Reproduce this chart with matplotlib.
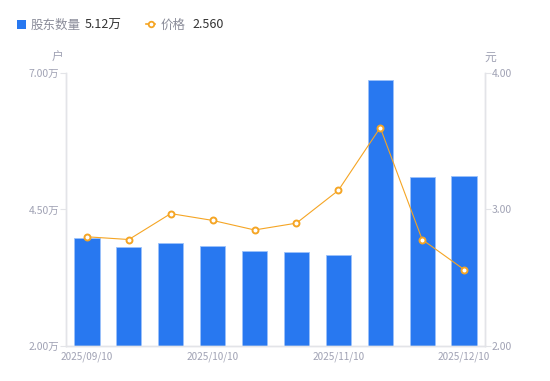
import matplotlib
matplotlib.use("Agg")
import matplotlib.pyplot as plt
from matplotlib.patches import Rectangle
from matplotlib.lines import Line2D

plt.rcParams["font.family"] = ["Noto Sans CJK SC", "DejaVu Sans"]

dates = ["2025/09/10", "2025/09/20", "2025/09/30", "2025/10/10", "2025/10/20",
         "2025/10/31", "2025/11/10", "2025/11/20", "2025/11/28", "2025/12/10"]
holders = [3.98, 3.81, 3.88, 3.83, 3.74, 3.72, 3.67, 6.87, 5.09, 5.12]  # 万户
price = [2.80, 2.78, 2.97, 2.92, 2.85, 2.90, 3.14, 3.60, 2.78, 2.56]
shown_ticks = [0, 3, 6, 9]

BLEU = "#2878f0"
ORANGE = "#f5a524"
GRIS_TXT = "#a0a2b4"
GRIS_AXE = "#e3e4e8"

fig = plt.figure(figsize=(5.5, 3.81), dpi=100)
ax = fig.add_axes([0.12, 0.0919, 0.7618, 0.7165])
ax2 = ax.twinx()

x = list(range(len(dates)))
ax.bar(x, holders, width=0.6, color=BLEU, edgecolor="#9cc2fa", linewidth=0.6, zorder=2)
ax.set_xlim(-0.5, len(dates) - 0.5)
ax.set_ylim(2.0, 7.0)
ax.set_yticks([2.0, 4.5, 7.0])
ax.set_yticklabels([f"{v:.2f}万" for v in [2.0, 4.5, 7.0]])
ax.set_xticks(shown_ticks)
ax.set_xticklabels([dates[i] for i in shown_ticks])

ax2.plot(x, price, color=ORANGE, linewidth=0.8, marker="o", markersize=4.3,
         markerfacecolor="white", markeredgecolor=ORANGE, markeredgewidth=1.4, zorder=3)
ax2.set_ylim(2.0, 4.0)
ax2.set_yticks([2.0, 3.0, 4.0])
ax2.set_yticklabels([f"{v:.2f}" for v in [2.0, 3.0, 4.0]])

for a in (ax, ax2):
    for s in a.spines.values():
        s.set_color(GRIS_AXE)
        s.set_linewidth(1.0)
    a.spines["top"].set_visible(False)
    a.tick_params(axis="both", colors=GRIS_AXE, labelcolor=GRIS_TXT, labelsize=7.5, length=4, width=0.8)
ax.tick_params(axis="x", length=0, pad=4, labelsize=7.2)
ax2.tick_params(axis="y", pad=1)
ax.tick_params(axis="y", pad=1)

fig.text(58 / 550, 1 - 57 / 381, "户", color=GRIS_TXT, fontsize=8.5, ha="center", va="center")
fig.text(490 / 550, 1 - 57 / 381, "元", color=GRIS_TXT, fontsize=8.5, ha="center", va="center")

# legende
yl = 1 - 25 / 381
fig.patches.append(Rectangle((17 / 550, 1 - 29 / 381), 9 / 550, 9 / 381, transform=fig.transFigure,
                             facecolor=BLEU, edgecolor="none"))
fig.text(31 / 550, yl, "股东数量", color="#8a8c99", fontsize=9, va="center")
fig.text(85 / 550, yl, "5.12万", color="#333333", fontsize=9, va="center")
fig.lines.append(Line2D([146 / 550, 155 / 550], [1 - 24 / 381] * 2, transform=fig.transFigure,
                        color=ORANGE, linewidth=1.2))
fig.lines.append(Line2D([150.5 / 550], [1 - 24 / 381], transform=fig.transFigure, color=ORANGE, marker="o",
                        markersize=4, markerfacecolor="white", markeredgewidth=1.3, linestyle="none"))
fig.text(161 / 550, yl, "价格", color="#8a8c99", fontsize=9, va="center")
fig.text(192 / 550, yl, "2.560", color="#333333", fontsize=9, va="center")

fig.savefig("out.png", dpi=100)
